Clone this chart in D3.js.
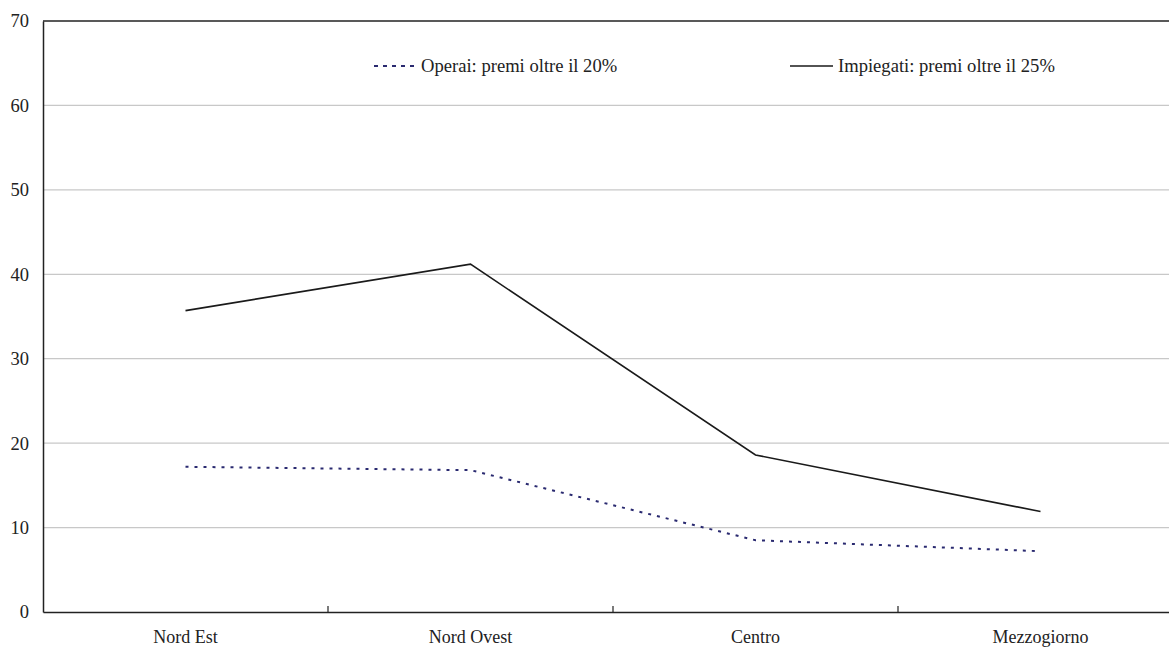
<!DOCTYPE html>
<html><head><meta charset="utf-8">
<script src="https://cdn.jsdelivr.net/npm/d3@7"></script>
<style>body{margin:0;background:#fff;}svg{display:block;} text{font-family:'Liberation Serif','Times New Roman',serif;}</style>
</head><body>
<script>
const categories = ["Nord Est", "Nord Ovest", "Centro", "Mezzogiorno"];
const operai = [17.2, 16.8, 8.5, 7.2];
const impiegati = [35.7, 41.2, 18.6, 11.9];
const yTicks = [0, 10, 20, 30, 40, 50, 60, 70];
const seriesNames = ["Operai: premi oltre il 20%", "Impiegati: premi oltre il 25%"];

const W = 1169, H = 647;
const svg = d3.select("body").append("svg").attr("width", W).attr("height", H);
const font = "Liberation Serif";
const mLeft = 43, mRight = 1183, mTop = 21, mBottom = 612;

const x = d3.scaleBand().domain(categories).range([mLeft, mRight]);
const y = d3.scaleLinear().domain([0, 70]).range([mBottom, mTop]);

// gridlines
svg.append("g").selectAll("line").data(yTicks.filter(t => t > 0 && t < 70)).join("line")
  .attr("x1", mLeft).attr("x2", W).attr("y1", d => y(d)).attr("y2", d => y(d))
  .attr("stroke", "#c8c8c8").attr("stroke-width", 1.2);

// top frame line
svg.append("line").attr("x1", mLeft).attr("x2", W).attr("y1", y(70)).attr("y2", y(70))
  .attr("stroke", "#222").attr("stroke-width", 1.5);

// y axis
const ya = svg.append("g").attr("transform", `translate(${mLeft},0)`)
  .call(d3.axisLeft(y).tickValues(yTicks).tickSize(0).tickPadding(14));
ya.select(".domain").attr("stroke", "#222").attr("stroke-width", 1.5);
ya.selectAll("text").attr("font-family", font).attr("font-size", 18.5).attr("fill", "#222");

// x axis
const xa = svg.append("g").attr("transform", `translate(0,${mBottom})`)
  .call(d3.axisBottom(x).tickSize(0).tickPadding(18));
xa.select(".domain").attr("stroke", "#222").attr("stroke-width", 1.5);
xa.selectAll("text").attr("font-family", font).attr("font-size", 18).attr("fill", "#222");
// category boundary ticks (inside)
svg.append("g").selectAll("line").data(categories.slice(1)).join("line")
  .attr("x1", d => x(d)).attr("x2", d => x(d)).attr("y1", mBottom).attr("y2", mBottom - 6)
  .attr("stroke", "#222").attr("stroke-width", 1.2);

const line = d3.line().x((d, i) => x(categories[i]) + x.bandwidth() / 2).y(d => y(d));
svg.append("path").datum(impiegati).attr("d", line).attr("fill", "none")
  .attr("stroke", "#1a1a1a").attr("stroke-width", 1.6);
svg.append("path").datum(operai).attr("d", line).attr("fill", "none")
  .attr("stroke", "#2a2a70").attr("stroke-width", 2).attr("stroke-dasharray", "3,6");

// legend
const lg = svg.append("g");
lg.append("line").attr("x1", 374).attr("x2", 414).attr("y1", 66).attr("y2", 66)
  .attr("stroke", "#2a2a70").attr("stroke-width", 2).attr("stroke-dasharray", "4,5");
lg.append("text").attr("x", 421).attr("y", 72).attr("font-family", font).attr("font-size", 18.6).attr("fill", "#222").text(seriesNames[0]);
lg.append("line").attr("x1", 790).attr("x2", 833).attr("y1", 66).attr("y2", 66)
  .attr("stroke", "#1a1a1a").attr("stroke-width", 1.6);
lg.append("text").attr("x", 838).attr("y", 72).attr("font-family", font).attr("font-size", 18.6).attr("fill", "#222").text(seriesNames[1]);
</script>
</body></html>
